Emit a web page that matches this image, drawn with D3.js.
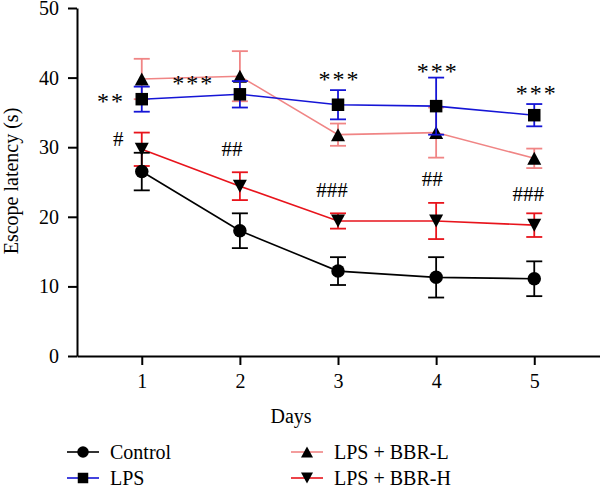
<!DOCTYPE html>
<html>
<head>
<meta charset="utf-8">
<script src="https://cdn.jsdelivr.net/npm/d3@7"></script>
<style>
  body { margin: 0; background: #fff; }
  svg { display: block; }
  svg text { font-family: "Liberation Serif", "DejaVu Serif", serif; }
</style>
</head>
<body>
<svg id="chart" width="600" height="490"></svg>
<script>
"use strict";

// Data (mean, error bar half-length)
const days = [1, 2, 3, 4, 5];
const controlMean = [26.5, 18.0, 12.2, 11.3, 11.1],
  controlErr = [2.7, 2.5, 2.0, 2.9, 2.5];
const lpsMean = [36.9, 37.6, 36.1, 35.9, 34.6],
  lpsErr = [1.8, 1.9, 2.1, 4.1, 1.6];
const bbrLMean = [39.8, 40.2, 31.8, 32.1, 28.4],
  bbrLErr = [2.9, 3.6, 1.6, 3.6, 1.4];
const bbrHMean = [29.7, 24.4, 19.4, 19.4, 18.8],
  bbrHErr = [2.4, 2.0, 1.1, 2.6, 1.7];
const yTicks = [0, 10, 20, 30, 40, 50];

// significance marks, placed in data units
const starLabels = ["**", "***", "***", "***", "***"],
  starX = [0.67, 1.51, 3.0, 4.0, 5.01],
  starY = [37.3, 39.9, 40.5, 41.6, 38.5];
const hashLabels = ["#", "##", "###", "##", "###"],
  hashX = [0.76, 1.92, 2.94, 3.96, 4.94],
  hashY = [31.2, 29.8, 23.9, 25.5, 23.3];

const series = [
  { name: "LPS + BBR-L", mean: bbrLMean, err: bbrLErr, color: "#f08585", shape: "up" },
  { name: "LPS", mean: lpsMean, err: lpsErr, color: "#1515d6", shape: "square" },
  { name: "LPS + BBR-H", mean: bbrHMean, err: bbrHErr, color: "#e8141c", shape: "down" },
  { name: "Control", mean: controlMean, err: controlErr, color: "#000", shape: "circle" },
];

const svg = d3.select("#chart");

const x = d3.scaleLinear().domain([0.34, 5.67]).range([77, 600]);
const y = d3.scaleLinear().domain([0, 50]).range([356, 8]);

function markerPath(shape, s) {
  // s = overall marker size in px
  const h = s / 2;
  if (shape === "circle") return d3.symbol(d3.symbolCircle, Math.PI * h * h)();
  if (shape === "square") return `M${-h},${-h}H${h}V${h}H${-h}Z`;
  if (shape === "up") return `M0,${-h}L${h + 0.5},${h}L${-h - 0.5},${h}Z`;
  return `M0,${h}L${h + 0.5},${-h}L${-h - 0.5},${-h}Z`;
}

const markerSize = { circle: 13.5, square: 12.5, up: 13, down: 13 };

// axes
const yAxis = svg
  .append("g")
  .attr("transform", `translate(${x.range()[0]},0)`)
  .call(
    d3.axisLeft(y).tickValues(yTicks).tickFormat(d3.format("d"))
      .tickSize(9).tickSizeOuter(0).tickPadding(9)
  );

const xAxis = svg
  .append("g")
  .attr("transform", `translate(0,${y(0)})`)
  .call(
    d3.axisBottom(x).tickValues(days).tickFormat(d3.format("d"))
      .tickSize(9).tickSizeOuter(0).tickPadding(9)
  );

[yAxis, xAxis].forEach((g) => {
  g.attr("font-family", null).attr("font-size", null);
  g.selectAll("path, line").attr("stroke", "#000").attr("stroke-width", 2);
  g.selectAll("text").attr("fill", "#000").style("font-size", "20px");
});

svg
  .append("text")
  .attr("x", 291)
  .attr("y", 423)
  .attr("text-anchor", "middle")
  .style("font-size", "20px")
  .text("Days");

svg
  .append("text")
  .attr("transform", "translate(18,181) rotate(-90)")
  .attr("text-anchor", "middle")
  .style("font-size", "20px")
  .text("Escope latency (s)");

// series
const line = d3
  .line()
  .x((d) => x(d.day))
  .y((d) => y(d.mean));

series.forEach((s) => {
  const pts = days.map((d, i) => ({ day: d, mean: s.mean[i], err: s.err[i] }));
  const g = svg.append("g");

  g.append("path")
    .datum(pts)
    .attr("d", line)
    .attr("fill", "none")
    .attr("stroke", s.color)
    .attr("stroke-width", 1.6);

  const eb = g.selectAll(".eb").data(pts).join("g").attr("stroke", s.color).attr("stroke-width", 1.8);
  eb.append("line")
    .attr("x1", (d) => x(d.day))
    .attr("x2", (d) => x(d.day))
    .attr("y1", (d) => y(d.mean - d.err))
    .attr("y2", (d) => y(d.mean + d.err));
  [-1, 1].forEach((sgn) =>
    eb
      .append("line")
      .attr("x1", (d) => x(d.day) - 8)
      .attr("x2", (d) => x(d.day) + 8)
      .attr("y1", (d) => y(d.mean + sgn * d.err))
      .attr("y2", (d) => y(d.mean + sgn * d.err))
  );

  g.selectAll(".mk")
    .data(pts)
    .join("path")
    .attr("transform", (d) => `translate(${x(d.day)},${y(d.mean)})`)
    .attr("d", markerPath(s.shape, markerSize[s.shape]))
    .attr("fill", "#000");
});

// significance labels
svg
  .append("g")
  .selectAll("text")
  .data(starLabels)
  .join("text")
  .attr("x", (d, i) => x(starX[i]) + 1.5)
  .attr("y", (d, i) => y(starY[i]) + 13)
  .attr("text-anchor", "middle")
  .style("font-size", "24px")
  .style("letter-spacing", "2px")
  .text((d) => d);

svg
  .append("g")
  .selectAll("text")
  .data(hashLabels)
  .join("text")
  .attr("x", (d, i) => x(hashX[i]))
  .attr("y", (d, i) => y(hashY[i]) + 7)
  .attr("text-anchor", "middle")
  .style("font-size", "21px")
  .text((d) => d);

// legend
const legendOrder = ["Control", "LPS", "LPS + BBR-L", "LPS + BBR-H"];
const legendPos = [
  [67, 452],
  [67, 478],
  [291, 452],
  [291, 478],
];
legendOrder.forEach((name, i) => {
  const s = series.find((d) => d.name === name);
  const [lx, ly] = legendPos[i];
  const g = svg.append("g").attr("transform", `translate(${lx},${ly})`);
  g.append("line").attr("x1", 0).attr("x2", 32).attr("stroke", s.color).attr("stroke-width", 1.6);
  g.append("path")
    .attr("transform", "translate(16,0)")
    .attr("d", markerPath(s.shape, markerSize[s.shape] - 2))
    .attr("fill", "#000");
  g.append("text").attr("x", 43).attr("y", 7).style("font-size", "20px").text(name);
});
</script>
</body>
</html>
